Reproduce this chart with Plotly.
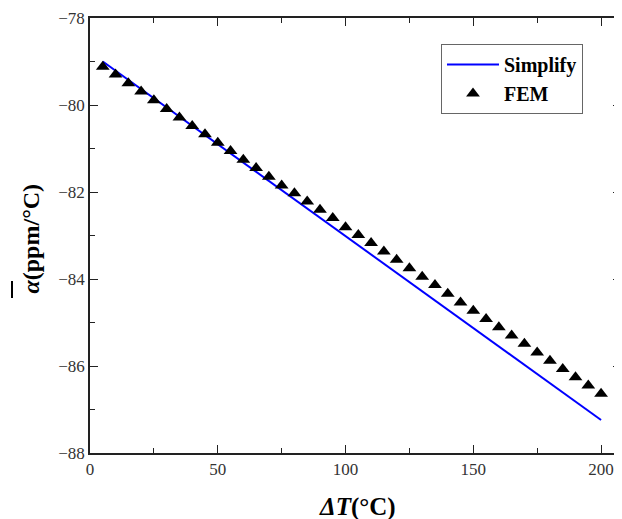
# Average CTE vs temperature change: simplified model against FEM results.
import plotly.graph_objects as go

# simplified model (straight line, endpoints)
dt_simplify = [5, 200]
alpha_simplify = [-79.0, -87.24]

# FEM results every 5 degC
dt_fem = list(range(5, 205, 5))
alpha_fem = [
    -79.12, -79.30, -79.50, -79.69, -79.89, -80.09, -80.29, -80.48, -80.67, -80.87,
    -81.06, -81.26, -81.45, -81.65, -81.85, -82.03, -82.22, -82.41, -82.60, -82.81,
    -82.99, -83.17, -83.37, -83.56, -83.75, -83.95, -84.14, -84.34, -84.54, -84.73,
    -84.92, -85.11, -85.30, -85.49, -85.69, -85.88, -86.07, -86.26, -86.45, -86.64,
]

serif = "Liberation Serif"

fig = go.Figure()
fig.add_trace(go.Scatter(
    x=dt_simplify, y=alpha_simplify, mode="lines", name="<b>Simplify</b>",
    line=dict(color="#0000ff", width=2),
))
fig.add_trace(go.Scatter(
    x=dt_fem, y=alpha_fem, mode="markers", name="<b>FEM</b>",
    marker=dict(symbol="triangle-up", size=12, color="black"),
))

axis_common = dict(
    showgrid=False, zeroline=False, showline=True, linecolor="#222", linewidth=1.5,
    mirror="ticks", ticks="inside", ticklen=8, tickwidth=1.2, tickcolor="#222",
    tickfont=dict(family=serif, size=17, color="#333"), automargin=False,
)

fig.update_xaxes(
    range=[0, 207.8], tickvals=[0, 50, 100, 150, 200],
    minor=dict(tickvals=[25, 75, 125, 175], ticks="inside", ticklen=5, tickcolor="#222"),
    **axis_common,
)
fig.update_yaxes(
    range=[-88, -78], tickvals=[-88, -86, -84, -82, -80, -78],
    minor=dict(tickvals=[-87, -85, -83, -81, -79], ticks="inside", ticklen=5, tickcolor="#222"),
    **axis_common,
)

# axis titles as annotations for exact placement
fig.add_annotation(text="<b><i>ΔT</i>(°C)</b>", font=dict(family=serif, size=25, color="black"),
                   showarrow=False, xref="paper", yref="paper", x=0.5, y=0,
                   xshift=2, yshift=-54, xanchor="center", yanchor="middle")
fig.add_annotation(text="<b><i>α</i>(ppm/°C)</b>", font=dict(family=serif, size=24, color="black"),
                   showarrow=False, xref="paper", yref="paper", x=0, y=0.5,
                   xshift=-60, yshift=-3, xanchor="center", yanchor="middle", textangle=-90)
# the bar over alpha
fig.add_shape(type="line", xref="paper", yref="paper",
              xsizemode="pixel", ysizemode="pixel", xanchor=0, yanchor=0,
              x0=-78, x1=-78, y0=155, y1=172,
              line=dict(color="black", width=2))

# page body adds an 8px margin, so the figure is 8px smaller and shifted
fig.update_layout(
    width=614, height=511,
    margin=dict(l=82, r=1, t=10, b=66),
    plot_bgcolor="white", paper_bgcolor="white",
    showlegend=True,
    legend=dict(
        x=0.661, y=0.94, xanchor="left", yanchor="top",
        bordercolor="#666", borderwidth=1, bgcolor="white",
        font=dict(family=serif, size=20, color="black"),
        itemwidth=52, tracegroupgap=0,
    ),
)

fig.write_html("out.html")
